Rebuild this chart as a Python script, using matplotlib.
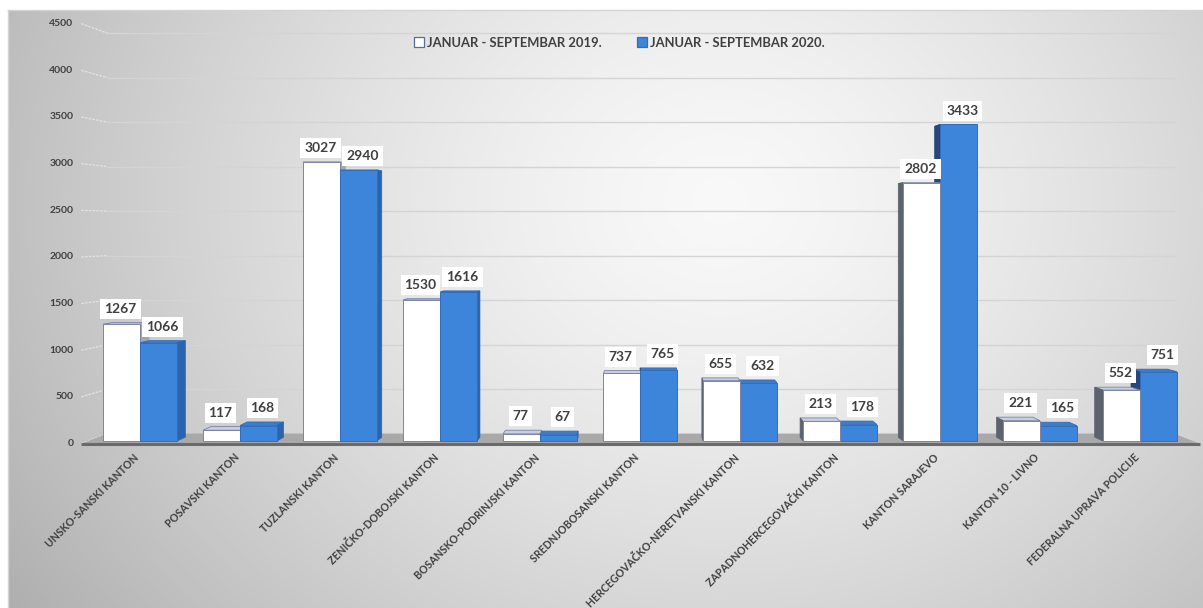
import numpy as np
import matplotlib
matplotlib.use("Agg")
import matplotlib.pyplot as plt
from matplotlib.patches import Polygon, Rectangle, Patch

plt.rcParams['font.family'] = ['Lato', 'DejaVu Sans']

categories = ["UNSKO-SANSKI KANTON", "POSAVSKI KANTON", "TUZLANSKI KANTON",
              "ZENIČKO-DOBOJSKI KANTON", "BOSANSKO-PODRINJSKI KANTON",
              "SREDNJOBOSANSKI KANTON", "HERCEGOVAČKO-NERETVANSKI KANTON",
              "ZAPADNOHERCEGOVAČKI KANTON", "KANTON SARAJEVO", "KANTON 10 - LIVNO",
              "FEDERALNA UPRAVA POLICIJE"]
values_2019 = [1267, 117, 3027, 1530, 77, 737, 655, 213, 2802, 221, 552]
values_2020 = [1066, 168, 2940, 1616, 67, 765, 632, 178, 3433, 165, 751]
series_names = ["JANUAR - SEPTEMBAR 2019.", "JANUAR - SEPTEMBAR 2020."]
yticks = [0, 500, 1000, 1500, 2000, 2500, 3000, 3500, 4000, 4500]

W, H = 1203, 608
fig = plt.figure(figsize=(W / 100, H / 100), dpi=100)

# background gradient axes
bg = fig.add_axes([0, 0, 1, 1])
bg.set_xlim(0, W)
bg.set_ylim(H, 0)
bg.axis('off')
xx, yy = np.meshgrid(np.arange(W), np.arange(H))
r = np.sqrt(((xx - 720) / 720.0) ** 2 + ((yy - 200) / 600.0) ** 2)
c = 0.975 - 0.225 * np.clip(r, 0, 1.3) ** 1.4
img = np.dstack([c, c, c])
frame = (xx >= 8) & (yy >= 10)
img[~frame] = 1.0
bg.imshow(img, extent=(0, W, H, 0), interpolation='bilinear', zorder=0)
bg.plot([8, W], [10, 10], color='#d4d4d4', lw=1)
bg.plot([8, 8], [10, H], color='#d4d4d4', lw=1)

# main axes in "bar front plane" data coordinates
ax = fig.add_axes([0, 0, 1, 1])
ax.patch.set_alpha(0)
ax.axis('off')
X0, XS = 140.0, 100.0
V0, VS = 441.0, 0.0922
ax.set_xlim((0 - X0) / XS, (W - X0) / XS)
ax.set_ylim((V0 - H) / VS, V0 / VS)

xV, vV = 5.0, 2300.0
S_FLOOR_FRONT, S_BAR_BACK, S_WALL = 1.012, 0.982, 0.965
XL, XR = -0.52, 10.53


def proj(x, v, s):
    return xV + s * (x - xV), vV + s * (v - vV)


# floor
fl = [proj(XL, 0, S_FLOOR_FRONT), proj(XR, 0, S_FLOOR_FRONT),
      proj(XR, 0, S_WALL), proj(XL, 0, S_WALL)]
ax.add_patch(Polygon(fl, closed=True, facecolor='#a9a9a9', edgecolor='none', zorder=2))
fx0, fy0 = proj(XL, 0, S_FLOOR_FRONT)
fx1, fy1 = proj(XR, 0, S_FLOOR_FRONT)
ax.plot([fx0, fx1], [fy0 - 8, fy1 - 8], color='#6a6a6a', lw=2.2, zorder=2.1,
        solid_capstyle='butt')

# back wall gridlines and left wall lines
for t in yticks[1:]:
    a = proj(XL, t, S_WALL)
    b = proj(XR, t, S_WALL)
    ax.plot([a[0], b[0]], [a[1], b[1]], color='#d4d4d4', lw=1.0, zorder=1)
for t in yticks:
    a = proj(XL, t, S_FLOOR_FRONT)
    b = proj(XL, t, S_WALL)
    ax.plot([a[0], b[0]], [a[1], b[1]], color='#e4e4e4', lw=0.9, ls=(0, (2, 1)), zorder=1)
    ax.text(a[0] - 0.08, a[1], str(t), ha='right', va='center', fontsize=7.5,
            fontweight='bold', color='#404040', zorder=5)

BW = 0.37
bars = []
for i, (a19, a20) in enumerate(zip(values_2019, values_2020)):
    bars.append((i - BW, i, a19, 0))
    bars.append((i, i + BW, a20, 1))

styles = {
    0: dict(front='#ffffff', edge='#7c84a6', top='#c9cedf', side_l='#a3a7b0', side_r='#5d636e'),
    1: dict(front='#3d85da', edge='#2f6dbd', top='#3f7cc8', side_l='#2c63ad', side_r='#27477a'),
}

order = sorted(range(len(bars)), key=lambda k: -abs((bars[k][0] + bars[k][1]) / 2 - xV))
for z, k in enumerate(order):
    x0, x1, h, sidx = bars[k]
    st = styles[sidx]
    zb = 3 + z * 0.01
    x0b, hb = proj(x0, h, S_BAR_BACK)
    x1b, _ = proj(x1, h, S_BAR_BACK)
    _, b0 = proj(x0, 0, S_BAR_BACK)
    top = [(x0, h), (x1, h), (x1b, hb), (x0b, hb)]
    ax.add_patch(Polygon(top, closed=True, facecolor=st['top'], edgecolor=st['edge'],
                         lw=0.6, zorder=zb))
    if (x0 + x1) / 2 < xV:
        side = [(x1, 0), (x1, h), (x1b, hb), (x1b, b0)]
        sc = st['side_l']
    else:
        side = [(x0, 0), (x0, h), (x0b, hb), (x0b, b0)]
        sc = st['side_r']
    ax.add_patch(Polygon(side, closed=True, facecolor=sc, edgecolor=sc, lw=0.5, zorder=zb + 0.001))
    ax.add_patch(Rectangle((x0, 0), x1 - x0, h, facecolor=st['front'], edgecolor=st['edge'],
                           lw=0.7, zorder=zb + 0.002))

# data labels
for k, (x0, x1, h, sidx) in enumerate(bars):
    xc = (x0 + x1) / 2 + (0.04 if sidx == 1 else -0.01)
    _, hb = proj(x0, h, S_BAR_BACK)
    ytxt = max(h, hb) + 150
    ax.text(xc, ytxt, str(h), ha='center', va='center', fontsize=10, fontweight='bold',
            color='#404040', zorder=10,
            bbox=dict(boxstyle='square,pad=0.28', facecolor='white', edgecolor='none'))

# category labels
for i, name in enumerate(categories):
    ax.text(i - 0.025, -160, name, rotation=45, rotation_mode='anchor', ha='right',
            va='center', fontsize=7.6, fontweight='bold', color='#404040', zorder=5)

# legend
handles = [Patch(facecolor='white', edgecolor='#5a6a9a', lw=0.9),
           Patch(facecolor='#3d85da', edgecolor='#2f6dbd', lw=0.9)]
leg = ax.legend(handles, series_names, loc='center', bbox_to_anchor=(619 / W, 1 - 43 / H),
                bbox_transform=fig.transFigure, ncol=2, frameon=False, handlelength=0.8,
                handleheight=0.8, handletextpad=0.2, columnspacing=2.7,
                prop=dict(family='Lato', weight='bold', size=9.4))
for t in leg.get_texts():
    t.set_color('#404040')

fig.savefig('out.png', dpi=100)
